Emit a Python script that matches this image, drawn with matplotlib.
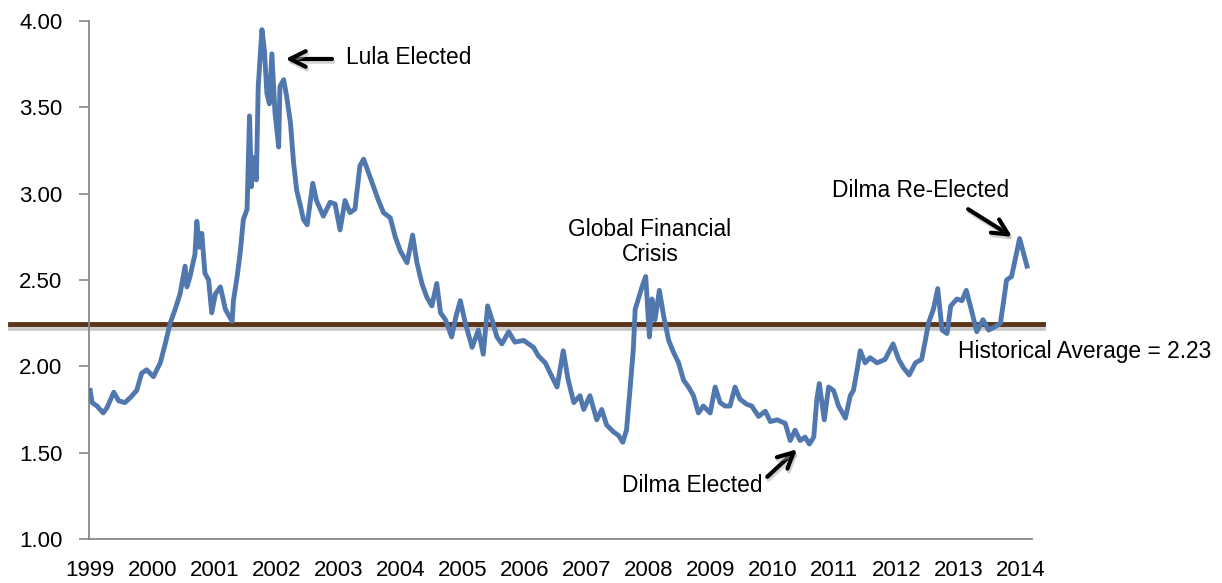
import matplotlib
matplotlib.use("Agg")
import matplotlib.pyplot as plt
import matplotlib.patheffects as pe

plt.rcParams['font.family'] = ['Liberation Sans', 'DejaVu Sans']

# exchange rate (x in axis-label years)
yr = [1999.00, 1999.03, 1999.11, 1999.21, 1999.27, 1999.38, 1999.46, 1999.56, 1999.65, 1999.75,
      1999.83, 1999.91, 2000.02, 2000.13, 2000.21, 2000.29, 2000.37, 2000.45, 2000.53, 2000.56,
      2000.61, 2000.69, 2000.72, 2000.76, 2000.80, 2000.85, 2000.91, 2000.96, 2001.02, 2001.10,
      2001.18, 2001.29, 2001.31, 2001.37, 2001.42, 2001.47, 2001.53, 2001.57, 2001.60, 2001.63,
      2001.68, 2001.71, 2001.77, 2001.81, 2001.85, 2001.89, 2001.93, 2001.98, 2002.04, 2002.06,
      2002.12, 2002.17, 2002.23, 2002.28, 2002.33, 2002.39, 2002.44, 2002.50, 2002.59, 2002.65,
      2002.76, 2002.87, 2002.95, 2003.03, 2003.11, 2003.19, 2003.27, 2003.35, 2003.41, 2003.49,
      2003.57, 2003.65, 2003.73, 2003.84, 2003.92, 2004.00, 2004.11, 2004.20, 2004.27, 2004.35,
      2004.43, 2004.51, 2004.59, 2004.65, 2004.73, 2004.83, 2004.90, 2004.97, 2005.05, 2005.16,
      2005.26, 2005.34, 2005.41, 2005.48, 2005.56, 2005.64, 2005.75, 2005.85, 2005.99, 2006.15,
      2006.23, 2006.34, 2006.42, 2006.53, 2006.63, 2006.71, 2006.80, 2006.90, 2006.96, 2007.06,
      2007.17, 2007.25, 2007.33, 2007.44, 2007.52, 2007.59, 2007.65, 2007.71, 2007.76, 2007.79,
      2007.84, 2007.90, 2007.96, 2008.02, 2008.06, 2008.11, 2008.18, 2008.25, 2008.33, 2008.41,
      2008.49, 2008.57, 2008.65, 2008.73, 2008.81, 2008.89, 2009.00, 2009.08, 2009.16, 2009.24,
      2009.32, 2009.40, 2009.48, 2009.59, 2009.67, 2009.78, 2009.89, 2009.97, 2010.08, 2010.21,
      2010.29, 2010.37, 2010.45, 2010.53, 2010.60, 2010.67, 2010.72, 2010.76, 2010.84, 2010.91,
      2010.99, 2011.07, 2011.18, 2011.26, 2011.31, 2011.37, 2011.42, 2011.50, 2011.58, 2011.69,
      2011.82, 2011.95, 2012.04, 2012.12, 2012.21, 2012.31, 2012.41, 2012.47, 2012.52, 2012.60,
      2012.67, 2012.74, 2012.82, 2012.88, 2012.98, 2013.06, 2013.13, 2013.21, 2013.30, 2013.40,
      2013.49, 2013.60, 2013.68, 2013.73, 2013.78, 2013.86, 2013.92, 2013.99, 2014.05, 2014.11]
rate = [1.86, 1.79, 1.77, 1.73, 1.76, 1.85, 1.80, 1.79, 1.82, 1.86,
        1.96, 1.98, 1.94, 2.02, 2.13, 2.25, 2.33, 2.42, 2.58, 2.46,
        2.52, 2.65, 2.84, 2.69, 2.77, 2.54, 2.50, 2.31, 2.42, 2.46,
        2.33, 2.26, 2.38, 2.52, 2.66, 2.85, 2.91, 3.45, 3.04, 3.21,
        3.08, 3.62, 3.95, 3.83, 3.58, 3.52, 3.81, 3.47, 3.27, 3.62,
        3.66, 3.56, 3.41, 3.18, 3.02, 2.93, 2.85, 2.82, 3.06, 2.96,
        2.87, 2.95, 2.94, 2.79, 2.96, 2.89, 2.91, 3.16, 3.20, 3.12,
        3.04, 2.96, 2.89, 2.86, 2.75, 2.67, 2.60, 2.76, 2.60, 2.48,
        2.40, 2.35, 2.48, 2.31, 2.27, 2.17, 2.29, 2.38, 2.25, 2.11,
        2.21, 2.07, 2.35, 2.27, 2.17, 2.13, 2.20, 2.14, 2.15, 2.11,
        2.06, 2.02, 1.96, 1.88, 2.09, 1.92, 1.79, 1.83, 1.75, 1.83,
        1.69, 1.75, 1.66, 1.62, 1.60, 1.56, 1.63, 1.88, 2.10, 2.33,
        2.39, 2.46, 2.52, 2.17, 2.39, 2.27, 2.44, 2.29, 2.15, 2.08,
        2.02, 1.92, 1.88, 1.83, 1.73, 1.77, 1.73, 1.88, 1.79, 1.77,
        1.77, 1.88, 1.81, 1.78, 1.77, 1.71, 1.74, 1.68, 1.69, 1.67,
        1.57, 1.63, 1.57, 1.59, 1.55, 1.59, 1.81, 1.90, 1.69, 1.88,
        1.86, 1.77, 1.70, 1.83, 1.86, 1.98, 2.09, 2.02, 2.05, 2.02,
        2.04, 2.13, 2.04, 1.99, 1.95, 2.02, 2.04, 2.15, 2.25, 2.33,
        2.45, 2.21, 2.19, 2.35, 2.39, 2.38, 2.44, 2.33, 2.20, 2.27,
        2.21, 2.23, 2.25, 2.37, 2.50, 2.52, 2.62, 2.74, 2.66, 2.58]

year_labels = [str(y) for y in range(1999, 2015)]
y_ticks = [1.00, 1.50, 2.00, 2.50, 3.00, 3.50, 4.00]
avg_label = 2.23
avg_level = 2.245

blue = '#5078AE'
brown = '#5A3519'
fs = 16
afs = 16.4

fig = plt.figure(figsize=(12.22, 5.83), dpi=100)
ax = fig.add_axes([0.0728, 0.0755, 0.7717, 0.8885])

ax.plot(yr, rate, color=blue, lw=3.5, solid_joinstyle='round', zorder=3)

# historical average bar (runs past the axes like the drawn shape)
ax.plot([1997.71, 2014.37], [avg_level, avg_level], color=brown, lw=3.5, clip_on=False, zorder=2,
        path_effects=[pe.SimpleLineShadow(offset=(0, -3), shadow_color='#999999', alpha=0.5),
                      pe.Normal()])

ax.set_xlim(1998.98, 2014.19)
ax.set_ylim(1, 4)
ax.set_xticks(range(1999, 2015))
ax.set_xticklabels(year_labels)
ax.set_yticks(y_ticks)
ax.set_yticklabels(['%.2f' % v for v in y_ticks])
ax.tick_params(axis='y', direction='out', length=7, width=1.2, color='#888888', pad=12, labelsize=fs)
ax.tick_params(axis='x', length=0, pad=15, labelsize=fs)
for s in ['top', 'right']:
    ax.spines[s].set_visible(False)
for s in ['left', 'bottom']:
    ax.spines[s].set_color('#888888')
    ax.spines[s].set_linewidth(1.3)

arrow = dict(arrowstyle='->', lw=3, color='black', mutation_scale=28, shrinkA=0, shrinkB=0,
             path_effects=[pe.SimpleLineShadow(offset=(1, -2), shadow_color='#aaaaaa', alpha=0.5),
                           pe.Normal()])

ax.annotate('', xy=(2002.15, 3.78), xytext=(2002.90, 3.78), arrowprops=arrow)
ax.text(2003.13, 3.79, 'Lula Elected', fontsize=afs, va='center', ha='left')

ax.text(2008.03, 2.72, 'Global Financial\nCrisis', fontsize=afs, va='center', ha='center',
        linespacing=1.15)

ax.annotate('', xy=(2010.40, 1.52), xytext=(2009.92, 1.36), arrowprops=arrow)
ax.text(2008.71, 1.31, 'Dilma Elected', fontsize=afs, va='center', ha='center')

ax.annotate('', xy=(2013.87, 2.75), xytext=(2013.16, 2.91), arrowprops=arrow)
ax.text(2012.39, 3.02, 'Dilma Re-Elected', fontsize=afs, va='center', ha='center')

ax.text(2013.0, 2.083, 'Historical Average = %.2f' % avg_label, fontsize=afs, va='center', ha='left')

fig.savefig('out.png', dpi=100)
